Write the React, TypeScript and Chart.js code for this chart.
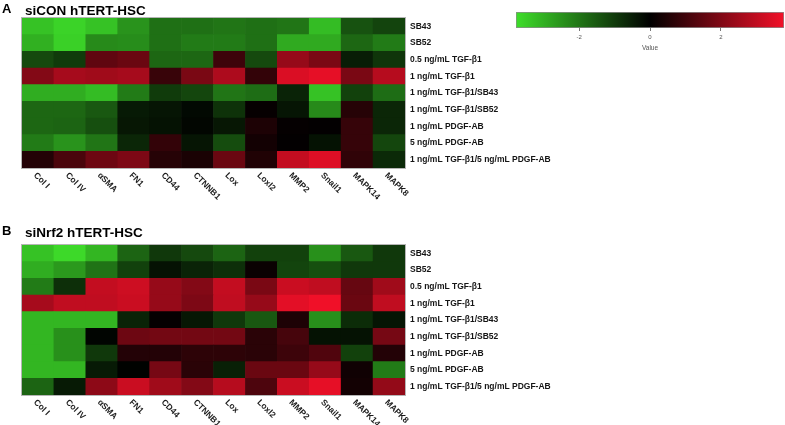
import React, { useEffect, useRef } from 'react';
import { Chart, registerables } from 'chart.js';

Chart.register(...registerables);

const genes = ['Col I', 'Col IV', 'αSMA', 'FN1', 'CD44', 'CTNNB1', 'Lox', 'Loxl2', 'MMP2', 'Snail1', 'MAPK14', 'MAPK8'];
const conditions = [
  'SB43',
  'SB52',
  '0.5 ng/mL TGF-β1',
  '1 ng/mL TGF-β1',
  '1 ng/mL TGF-β1/SB43',
  '1 ng/mL TGF-β1/SB52',
  '1 ng/mL PDGF-AB',
  '5 ng/mL PDGF-AB',
  '1 ng/mL TGF-β1/5 ng/mL PDGF-AB',
];

// Panel A: siCON hTERT-HSC (rows = conditions, cols = genes)
const siconValues = [
  [-3.3, -3.6, -3.3, -2.5, -1.9, -1.9, -2.0, -1.9, -2.0, -3.2, -1.4, -1.15],
  [-3.0, -3.55, -2.35, -2.4, -1.9, -2.1, -2.1, -1.9, -2.9, -2.9, -1.75, -2.1],
  [-1.25, -1.0, 1.5, 1.65, -1.75, -1.75, 0.95, -1.25, 2.35, 1.9, -0.5, -0.9],
  [2.05, 2.6, 2.5, 2.6, 0.87, 1.9, 2.7, 0.8, 3.4, 3.6, 1.9, 2.85],
  [-2.95, -2.95, -3.2, -2.1, -1.0, -1.2, -2.0, -1.85, -0.6, -3.3, -1.1, -1.85],
  [-1.75, -1.75, -1.5, -0.45, -0.35, -0.15, -0.85, 0.1, -0.35, -2.35, 0.6, -0.65],
  [-1.75, -1.7, -1.35, -0.4, -0.3, -0.1, -0.4, 0.45, 0.08, 0.05, 0.85, -0.65],
  [-2.1, -2.5, -2.0, -0.65, 0.8, -0.35, -1.3, 0.3, 0.05, -0.3, 0.85, -1.2],
  [0.55, 1.15, 1.7, 1.95, 0.6, 0.4, 1.65, 0.5, 3.05, 3.45, 0.75, -0.7],
];

// Panel B: siNrf2 hTERT-HSC
const sinrf2Values = [
  [-3.3, -3.7, -3.1, -1.7, -0.95, -1.25, -1.7, -1.1, -1.1, -2.45, -1.5, -0.95],
  [-2.95, -2.6, -1.95, -1.1, -0.3, -0.6, -0.8, 0.15, -1.15, -1.35, -0.95, -0.95],
  [-2.1, -0.8, 3.05, 3.2, 2.35, 2.05, 3.05, 1.9, 3.15, 3.0, 1.6, 2.5],
  [2.6, 3.0, 3.0, 3.15, 2.35, 1.95, 3.0, 2.35, 3.55, 3.75, 1.65, 3.0],
  [-3.1, -3.1, -3.1, -0.6, 0.08, -0.4, -0.95, -1.5, 0.45, -2.45, -0.75, -0.35],
  [-3.1, -2.45, -0.08, 1.7, 1.8, 1.8, 1.8, 0.65, 1.1, -0.3, -0.3, 1.85],
  [-3.1, -2.45, -0.95, 0.55, 0.55, 0.7, 0.7, 0.65, 0.95, 1.25, -1.1, 0.55],
  [-3.1, -3.1, -0.45, -0.03, 1.85, 0.65, -0.55, 1.65, 1.65, 2.35, 0.25, -2.1],
  [-1.7, -0.45, 2.2, 3.15, 2.5, 2.05, 2.85, 1.2, 3.15, 3.6, 0.3, 2.3],
];

const colorbarTicks = [-2, 0, 2];
const valueMin = -3.78;
const valueMax = 3.78;

const GREEN = [62, 222, 42];
const RED = [242, 16, 40];
const FONT = '"Liberation Sans", Arial, Helvetica, sans-serif';

function colorFor(v: number): string {
  const t = Math.min(1, Math.abs(v) / valueMax);
  const c = v < 0 ? GREEN : RED;
  return `rgb(${Math.round(c[0] * t)},${Math.round(c[1] * t)},${Math.round(c[2] * t)})`;
}

const CANVAS_W = 785;
const HEAT_H = 215;
const AREA_TOP = 18;
const AREA_BOTTOM = 168;
const AREA_LEFT = 22;
const AREA_RIGHT = 405;

const geneLabelPlugin = {
  id: 'geneLabels',
  afterDraw(chart: any) {
    const { ctx, chartArea } = chart;
    const xs = chart.scales.x;
    ctx.save();
    ctx.strokeStyle = '#b5b5b5';
    ctx.lineWidth = 1;
    ctx.strokeRect(chartArea.left - 0.5, chartArea.top - 0.5, chartArea.right - chartArea.left + 1, chartArea.bottom - chartArea.top + 1);
    ctx.font = `bold 8.5px ${FONT}`;
    ctx.fillStyle = '#1a1a1a';
    ctx.textAlign = 'left';
    ctx.textBaseline = 'middle';
    genes.forEach((g, i) => {
      const x = xs.getPixelForValue(i);
      ctx.save();
      ctx.translate(x - 3, chartArea.bottom + 6);
      ctx.rotate(Math.PI / 4);
      ctx.fillText(g, 0, 0);
      ctx.restore();
    });
    ctx.restore();
  },
};

function Heatmap({ values, top }: { values: number[][]; top: number }) {
  const ref = useRef<HTMLCanvasElement | null>(null);
  useEffect(() => {
    if (!ref.current) return;
    const n = values.length;
    const datasets = [];
    for (let k = 0; k < n; k++) {
      const row = values[n - 1 - k];
      datasets.push({
        label: conditions[n - 1 - k],
        data: row.map(() => 1),
        backgroundColor: row.map((v) => colorFor(v)),
        borderWidth: 0,
        barPercentage: 1,
        categoryPercentage: 1,
        stack: 'heat',
      });
    }
    const chart = new Chart(ref.current, {
      type: 'bar',
      data: { labels: genes, datasets },
      options: {
        animation: false,
        responsive: false,
        events: [],
        layout: { padding: { left: AREA_LEFT, top: AREA_TOP, right: 0, bottom: 0 } },
        plugins: { legend: { display: false }, tooltip: { enabled: false }, title: { display: false } },
        scales: {
          x: {
            stacked: true,
            grid: { display: false, drawTicks: false },
            border: { display: false },
            ticks: { display: false },
            afterFit: (s: any) => {
              s.height = HEAT_H - AREA_BOTTOM;
            },
          },
          y: {
            stacked: true,
            position: 'right',
            min: 0,
            max: n,
            grid: { display: false, drawTicks: false },
            border: { display: false },
            afterBuildTicks: (s: any) => {
              s.ticks = conditions.map((_, i) => ({ value: i + 0.5 }));
            },
            ticks: {
              autoSkip: false,
              padding: 5,
              color: '#151515',
              font: { family: FONT, size: 8.5, weight: 'bold' },
              callback: (_v: any, i: number) => conditions[n - 1 - i],
            },
            afterFit: (s: any) => {
              s.width = CANVAS_W - AREA_RIGHT;
            },
          },
        },
      } as any,
      plugins: [geneLabelPlugin],
    });
    return () => chart.destroy();
  }, [values]);
  return (
    <canvas
      ref={ref}
      width={CANVAS_W}
      height={HEAT_H}
      style={{ position: 'absolute', left: 0, top, width: CANVAS_W, height: HEAT_H, display: 'block' }}
    />
  );
}

function ColorBar() {
  const ref = useRef<HTMLCanvasElement | null>(null);
  useEffect(() => {
    if (!ref.current) return;
    const chart = new Chart(ref.current, {
      type: 'bar',
      data: {
        labels: ['Value'],
        datasets: [
          {
            data: [[valueMin, valueMax]],
            backgroundColor: (c: any) => {
              const ch = c.chart;
              const xs = ch.scales && ch.scales.x;
              if (!ch.chartArea || !xs) return '#000';
              const x0 = xs.getPixelForValue(valueMin);
              const x1 = xs.getPixelForValue(valueMax);
              const g = ch.ctx.createLinearGradient(x0, 0, x1, 0);
              g.addColorStop(0, colorFor(valueMin));
              g.addColorStop(0.5, colorFor(0));
              g.addColorStop(1, colorFor(valueMax));
              return g;
            },
            borderColor: '#8c8c8c',
            borderWidth: 1,
            borderSkipped: false,
            barPercentage: 1,
            categoryPercentage: 1,
          },
        ],
      },
      options: {
        indexAxis: 'y',
        animation: false,
        responsive: false,
        events: [],
        layout: { padding: { left: 16, right: 1, top: 12, bottom: 0 } },
        plugins: { legend: { display: false }, tooltip: { enabled: false } },
        scales: {
          x: {
            type: 'linear',
            min: valueMin,
            max: valueMax,
            afterBuildTicks: (s: any) => {
              s.ticks = colorbarTicks.map((v) => ({ value: v }));
            },
            grid: { drawOnChartArea: false, drawTicks: true, tickLength: 3, color: '#777' },
            border: { display: false },
            ticks: { color: '#555', padding: 3, font: { family: FONT, size: 6 } },
            title: {
              display: true,
              text: 'Value',
              color: '#555',
              font: { family: FONT, size: 6.5 },
              padding: { top: 0, bottom: 6 },
            },
            afterFit: (s: any) => {
              s.height = 30;
            },
          },
          y: { display: false },
        },
      } as any,
    });
    return () => chart.destroy();
  }, []);
  return (
    <canvas
      ref={ref}
      width={285}
      height={58}
      style={{ position: 'absolute', left: 500, top: 0, width: 285, height: 58, display: 'block' }}
    />
  );
}

const panelLetter: React.CSSProperties = {
  position: 'absolute',
  fontFamily: FONT,
  fontWeight: 'bold',
  fontSize: 13,
  lineHeight: '13px',
  color: '#000',
  whiteSpace: 'nowrap',
};
const panelTitle: React.CSSProperties = {
  position: 'absolute',
  fontFamily: FONT,
  fontWeight: 'bold',
  fontSize: 13.5,
  lineHeight: '13.5px',
  color: '#000',
  whiteSpace: 'nowrap',
};

export default function App() {
  return (
    <div style={{ position: 'absolute', left: 0, top: 0, width: 785, height: 425, background: '#fff', overflow: 'hidden' }}>
      <Heatmap values={siconValues} top={0} />
      <Heatmap values={sinrf2Values} top={227} />
      <ColorBar />
      <div style={{ ...panelLetter, left: 2, top: 2 }}>A</div>
      <div style={{ ...panelTitle, left: 25, top: 3.6 }}>siCON hTERT-HSC</div>
      <div style={{ ...panelLetter, left: 2, top: 224 }}>B</div>
      <div style={{ ...panelTitle, left: 25, top: 226 }}>siNrf2 hTERT-HSC</div>
    </div>
  );
}
